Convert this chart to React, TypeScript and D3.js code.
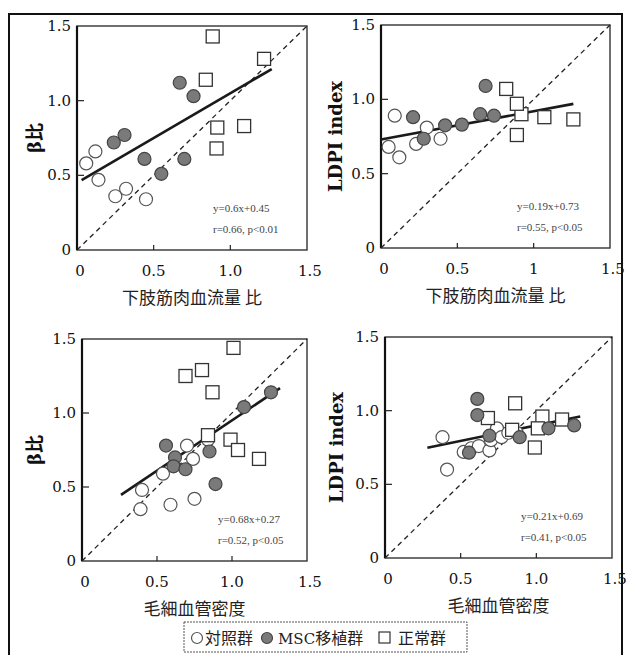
import * as d3 from 'd3';

// axis ticks
const ticks = [0, 0.5, 1.0, 1.5];
const yTickLabels = ['0', '0.5', '1.0', '1.5'];
const xTickLabelsA = ['0', '0.5', '1.0', '1.5'];
const xTickLabelsB = ['0', '0.5', '1', '1.5'];

// panel 1: β比 vs 下肢筋肉血流量 比
const p1Control = [[0.06, 0.58], [0.12, 0.66], [0.14, 0.47], [0.25, 0.36], [0.32, 0.41], [0.45, 0.34]];
const p1Msc = [[0.24, 0.72], [0.31, 0.77], [0.44, 0.61], [0.55, 0.51], [0.67, 1.12], [0.76, 1.03], [0.7, 0.61]];
const p1Normal = [[0.885, 1.43], [0.84, 1.14], [1.22, 1.28], [0.915, 0.82], [0.91, 0.68], [1.09, 0.83]];

// panel 2: LDPI index vs 下肢筋肉血流量 比
const p2Control = [[0.05, 0.68], [0.09, 0.89], [0.12, 0.61], [0.23, 0.7], [0.3, 0.81], [0.39, 0.735]];
const p2Msc = [[0.21, 0.88], [0.28, 0.735], [0.42, 0.825], [0.53, 0.83], [0.65, 0.9], [0.74, 0.89], [0.685, 1.09]];
const p2Normal = [[0.82, 1.07], [0.92, 0.9], [0.89, 0.97], [0.89, 0.76], [1.07, 0.88], [1.26, 0.865]];

// panel 3: β比 vs 毛細血管密度
const p3Control = [[0.39, 0.35], [0.4, 0.48], [0.59, 0.38], [0.75, 0.42], [0.54, 0.59], [0.7, 0.78], [0.74, 0.69], [0.84, 0.82]];
const p3Msc = [[0.56, 0.78], [0.62, 0.7], [0.61, 0.64], [0.69, 0.62], [0.85, 0.74], [0.89, 0.52], [1.08, 1.04], [1.26, 1.14]];
const p3Normal = [[1.01, 1.44], [0.69, 1.25], [0.8, 1.29], [0.87, 1.14], [0.84, 0.85], [0.99, 0.82], [1.04, 0.75], [1.18, 0.69]];

// panel 4: LDPI index vs 毛細血管密度
const p4Control = [[0.38, 0.82], [0.41, 0.6], [0.52, 0.72], [0.57, 0.745], [0.62, 0.76], [0.69, 0.73], [0.7, 0.8], [0.74, 0.88], [0.77, 0.82], [0.815, 0.85], [0.87, 0.85]];
const p4Msc = [[0.61, 1.08], [0.61, 0.97], [0.555, 0.715], [0.69, 0.83], [0.89, 0.82], [1.08, 0.88], [1.25, 0.9]];
const p4Normal = [[0.68, 0.95], [0.86, 1.05], [0.84, 0.87], [1.04, 0.96], [1.01, 0.88], [0.99, 0.75], [1.17, 0.94]];

// regression fits
const fitSlopes = [0.6, 0.19, 0.68, 0.21];
const fitIntercepts = [0.45, 0.73, 0.27, 0.69];
const fitRanges = [[0.03, 1.27], [0, 1.26], [0.26, 1.32], [0.28, 1.29]];
const eqLabels = ['y=0.6x+0.45', 'y=0.19x+0.73', 'y=0.68x+0.27', 'y=0.21x+0.69'];
const statLabels = ['r=0.66, p<0.01', 'r=0.55, p<0.05', 'r=0.52, p<0.05', 'r=0.41, p<0.05'];

const yTitles = ['β比', 'LDPI index', 'β比', 'LDPI index'];
const xTitles = ['下肢筋肉血流量 比', '下肢筋肉血流量 比', '毛細血管密度', '毛細血管密度'];
const legendLabels = ['対照群', 'MSC移植群', '正常群'];

const controls = [p1Control, p2Control, p3Control, p4Control];
const mscs = [p1Msc, p2Msc, p3Msc, p4Msc];
const normals = [p1Normal, p2Normal, p3Normal, p4Normal];
const xLabelSets = [xTickLabelsA, xTickLabelsB, xTickLabelsA, xTickLabelsA];

// layout
const boxes = [
  { left: 77, top: 26, width: 230, height: 224, titleX: 35 },
  { left: 381, top: 25, width: 229, height: 223, titleX: 336 },
  { left: 82, top: 339, width: 225, height: 222, titleX: 35 },
  { left: 385, top: 337, width: 227, height: 221, titleX: 337 },
];

const serif = "'DejaVu Serif', 'Noto Sans CJK JP', serif";
const jp = "'Noto Sans CJK JP', 'DejaVu Serif', serif";
const R = 6.5;

function Panel({ i }: { i: number }) {
  const b = boxes[i];
  const x = d3.scaleLinear().domain([0, 1.5]).range([b.left, b.left + b.width]);
  const y = d3.scaleLinear().domain([0, 1.5]).range([b.top + b.height, b.top]);
  const bottom = b.top + b.height;

  const fit = d3.line<number>()
    .x(v => x(v))
    .y(v => y(fitSlopes[i] * v + fitIntercepts[i]));

  return (
    <g>
      <rect x={b.left} y={b.top} width={b.width} height={b.height} fill="none" stroke="#333" strokeWidth={1.4} />
      <line x1={b.left} x2={b.left} y1={b.top} y2={bottom} stroke="#111" strokeWidth={2.2} />

      {/* inner ticks */}
      {ticks.slice(1, 3).map(t => (
        <line key={'xt' + t} x1={x(t)} x2={x(t)} y1={bottom} y2={bottom - 5} stroke="#222" strokeWidth={1.2} />
      ))}
      {ticks.slice(1, 3).map(t => (
        <line key={'yt' + t} x1={b.left} x2={b.left + 7} y1={y(t)} y2={y(t)} stroke="#222" strokeWidth={1.2} />
      ))}

      {/* tick labels */}
      {ticks.map((t, k) => (
        <text key={'xl' + t} x={x(t) + (k === 0 ? 3 : k === 3 ? 3 : 0)} y={bottom + 26} textAnchor="middle"
          fontFamily={serif} fontSize={15} fill="#111">{xLabelSets[i][k]}</text>
      ))}
      {ticks.map((t, k) => (
        <text key={'yl' + t} x={b.left - 6} y={y(t) + 5} textAnchor="end"
          fontFamily={serif} fontSize={15} fill="#111">{yTickLabels[k]}</text>
      ))}

      {/* identity line */}
      <line x1={x(0)} y1={y(0)} x2={x(1.5)} y2={y(1.5)} stroke="#222" strokeWidth={1.3} strokeDasharray="5,4" />

      {/* regression */}
      <path d={fit(fitRanges[i]) || ''} fill="none" stroke="#1a1a1a" strokeWidth={2.6} />

      {/* points */}
      {controls[i].map((d, k) => (
        <circle key={'c' + k} cx={x(d[0])} cy={y(d[1])} r={R} fill="#fff" stroke="#555" strokeWidth={1.2} />
      ))}
      {normals[i].map((d, k) => (
        <rect key={'n' + k} x={x(d[0]) - R} y={y(d[1]) - R} width={2 * R} height={2 * R} fill="#fff" stroke="#333" strokeWidth={1.3} />
      ))}
      {mscs[i].map((d, k) => (
        <circle key={'m' + k} cx={x(d[0])} cy={y(d[1])} r={R} fill="#7a7a7a" stroke="#444" strokeWidth={1.2} />
      ))}

      {/* fit annotation */}
      <text x={b.left + 136} y={bottom - 38} fontFamily="'Liberation Serif', serif" fontSize={11} fill="#444">{eqLabels[i]}</text>
      <text x={b.left + 136} y={bottom - 17} fontFamily="'Liberation Serif', serif" fontSize={11} fill="#444">{statLabels[i]}</text>

      {/* axis titles */}
      <text x={b.left + b.width / 2} y={bottom + 54} textAnchor="middle" fontFamily={jp} fontSize={17} fill="#222">{xTitles[i]}</text>
      <text transform={`translate(${b.titleX},${b.top + b.height / 2}) rotate(-90)`} textAnchor="middle" dy="0.35em"
        fontFamily={serif} fontWeight="bold" fontSize={18} fill="#111">{yTitles[i]}</text>
    </g>
  );
}

export default function App() {
  return (
    <svg width={630} height={655} style={{ position: 'absolute', left: 0, top: 0, background: '#fff' }}>
      <rect x={9} y={14} width={613} height={650} fill="none" stroke="#111" strokeWidth={2} />
      {boxes.map((_, i) => <Panel key={i} i={i} />)}

      {/* legend */}
      <rect x={184} y={622} width={283} height={30} fill="#fff" stroke="#555" strokeWidth={1} strokeDasharray="2,1" />
      <circle cx={197} cy={638} r={5.5} fill="#fff" stroke="#555" strokeWidth={1.2} />
      <text x={205} y={644} fontFamily={jp} fontSize={16} fill="#222">{legendLabels[0]}</text>
      <circle cx={267} cy={638} r={5.5} fill="#7a7a7a" stroke="#444" strokeWidth={1.2} />
      <text x={278} y={644} fontFamily={serif} fontSize={15} fill="#222">MSC<tspan fontFamily={jp} fontSize={16}>{legendLabels[1].slice(3)}</tspan></text>
      <rect x={379} y={632} width={11} height={11} fill="#fff" stroke="#333" strokeWidth={1.2} />
      <text x={398} y={644} fontFamily={jp} fontSize={16} fill="#222">{legendLabels[2]}</text>
    </svg>
  );
}
